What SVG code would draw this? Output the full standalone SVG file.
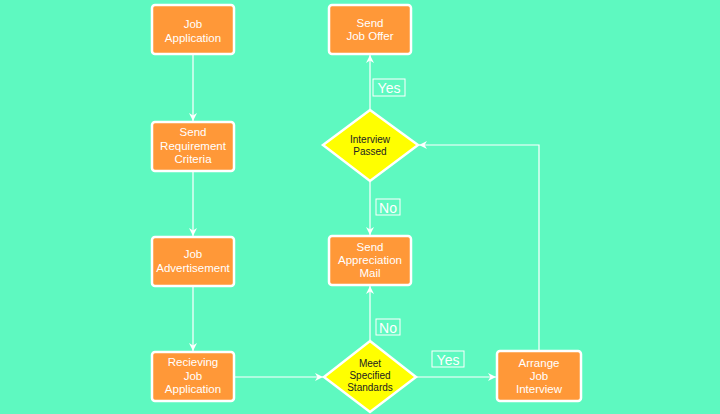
<svg xmlns="http://www.w3.org/2000/svg" width="720" height="414" viewBox="0 0 720 414">
<style>
.box{fill:#FF9838;stroke:#fff;stroke-width:2.5}
.dia{fill:#FFFF00;stroke:#fff;stroke-width:2.5}
.bt{font-family:"Liberation Sans",Arial,sans-serif;font-size:11.5px;fill:#fff;text-anchor:middle}
.dt{font-family:"Liberation Sans",Arial,sans-serif;font-size:10px;fill:#222;text-anchor:middle}
.ln{stroke:#fff;stroke-width:1.2;fill:none;marker-end:url(#ah)}
.lb{fill:none;stroke:#fff;stroke-width:1}
.lt{font-family:"Liberation Sans",Arial,sans-serif;font-size:14px;fill:#fff;text-anchor:middle}
</style>
<defs>
<marker id="ah" viewBox="0 0 10 10" refX="10" refY="5" markerWidth="8" markerHeight="8" markerUnits="userSpaceOnUse" orient="auto">
<path d="M0,0 L10,5 L0,10 L3,5 Z" fill="#fff"/>
</marker>
</defs>
<rect width="720" height="414" fill="#5EF9C0"/>
<g id="connectors">
<line class="ln" x1="193" y1="55" x2="193" y2="121"/>
<line class="ln" x1="193" y1="172" x2="193" y2="236"/>
<line class="ln" x1="193" y1="287" x2="193" y2="351"/>
<line class="ln" x1="235" y1="377" x2="323" y2="377"/>
<line class="ln" x1="417" y1="377" x2="496" y2="377"/>
<line class="ln" x1="370" y1="340" x2="370" y2="286"/>
<line class="ln" x1="370" y1="182" x2="370" y2="235"/>
<line class="ln" x1="370" y1="109" x2="370" y2="55"/>
<polyline class="ln" points="539,350 539,145 419,145"/>
<rect class="lb" x="373" y="79" width="32" height="17"/>
<text class="lt" x="389" y="93">Yes</text>
<rect class="lb" x="376" y="199" width="24" height="16"/>
<text class="lt" x="388" y="212.5">No</text>
<rect class="lb" x="376" y="319" width="24" height="16"/>
<text class="lt" x="388" y="332.5">No</text>
<rect class="lb" x="432" y="351" width="32" height="16"/>
<text class="lt" x="448" y="364.5">Yes</text>
</g>
<g id="job-application">
<rect class="box" x="152" y="5" width="82" height="49" rx="3"/>
<text class="bt" x="193" y="28">Job</text>
<text class="bt" x="193" y="42">Application</text>
</g>
<g id="send-requirement">
<rect class="box" x="152" y="122" width="82" height="49" rx="3"/>
<text class="bt" x="193" y="136">Send</text>
<text class="bt" x="193" y="150">Requirement</text>
<text class="bt" x="193" y="163">Criteria</text>
</g>
<g id="job-advertisement">
<rect class="box" x="152" y="237" width="82" height="49" rx="3"/>
<text class="bt" x="193" y="258">Job</text>
<text class="bt" x="193" y="272">Advertisement</text>
</g>
<g id="recieving">
<rect class="box" x="152" y="352" width="82" height="49" rx="3"/>
<text class="bt" x="193" y="366">Recieving</text>
<text class="bt" x="193" y="380">Job</text>
<text class="bt" x="193" y="393">Application</text>
</g>
<g id="send-job-offer">
<rect class="box" x="329" y="5" width="82" height="49" rx="3"/>
<text class="bt" x="370" y="27">Send</text>
<text class="bt" x="370" y="40">Job Offer</text>
</g>
<g id="interview-passed">
<polygon class="dia" points="370,110 418,145 370,181 323,145"/>
<text class="dt" x="370" y="143">Interview</text>
<text class="dt" x="370" y="155">Passed</text>
</g>
<g id="send-appreciation">
<rect class="box" x="329" y="236" width="82" height="49" rx="3"/>
<text class="bt" x="370" y="251">Send</text>
<text class="bt" x="370" y="264">Appreciation</text>
<text class="bt" x="370" y="277">Mail</text>
</g>
<g id="meet-standards">
<polygon class="dia" points="370,341 416,377 370,412 324,377"/>
<text class="dt" x="370" y="367">Meet</text>
<text class="dt" x="370" y="379">Specified</text>
<text class="dt" x="370" y="391">Standards</text>
</g>
<g id="arrange-interview">
<rect class="box" x="497" y="351" width="84" height="50" rx="3"/>
<text class="bt" x="539" y="367">Arrange</text>
<text class="bt" x="539" y="380">Job</text>
<text class="bt" x="539" y="393">Interview</text>
</g>
</svg>
